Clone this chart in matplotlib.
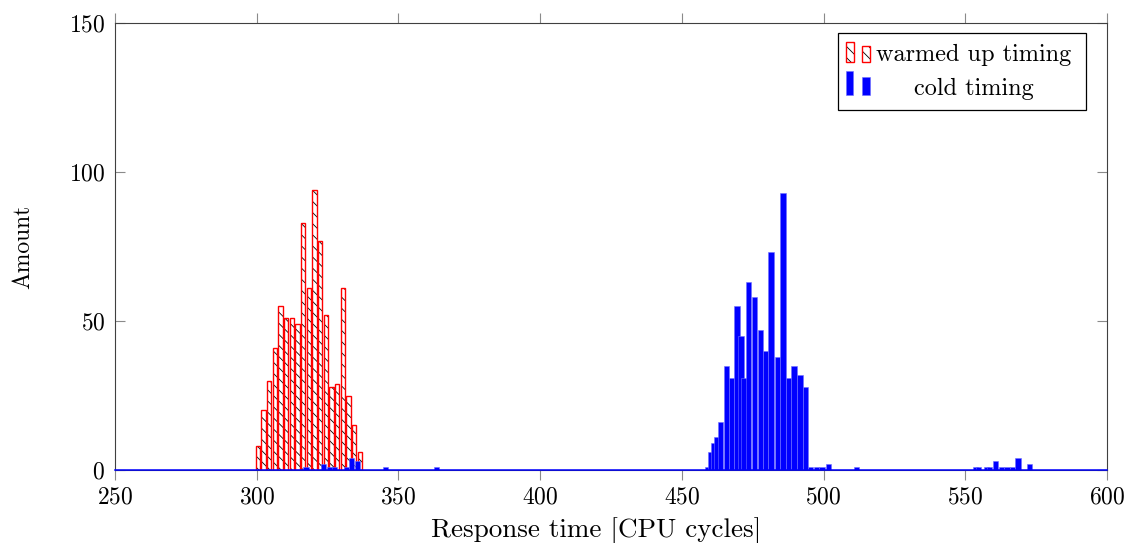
import numpy as np
from matplotlib import pyplot as plt
from matplotlib.patches import Rectangle

FIG_W, FIG_H, DPI = 11.27, 5.43, 100
FONT_SIZE = 17

# warmed up timing: bins of 2 cycles
red_cycles = [300, 302, 304, 306, 308, 310, 312, 314, 316, 318,
              320, 322, 324, 326, 328, 330, 332, 334, 336]
red_counts = [8, 20, 30, 41, 55, 51, 51, 49, 83, 61,
              94, 77, 52, 28, 29, 61, 25, 15, 6]

# cold timing
blue_cycles = [317.4, 323.6, 325.8, 327.5, 331.7, 333.5, 335.5, 345.5, 363.5,
               459.25, 460.25, 461.3, 462.3, 463.7, 465.65, 467.6, 469.5, 470.9,
               471.9, 473.55, 475.55, 477.65, 479.6, 481.5, 483.7, 485.65,
               487.65, 489.6, 491.65, 493.65,
               495.4, 497.4, 499.4, 501.7, 511.7,
               553.6, 554.6, 557.5, 558.5, 560.7, 562.7, 564.7, 566.7, 568.6, 572.6]
blue_counts = [1, 2, 1, 1, 1, 4, 3, 1, 1,
               1, 6, 9, 11, 16, 35, 31, 55, 45,
               31, 63, 58, 47, 40, 73, 38, 93,
               31, 35, 32, 28,
               1, 1, 1, 2, 1,
               1, 1, 1, 1, 3, 1, 1, 1, 4, 2]

x_ticks = [250, 300, 350, 400, 450, 500, 550, 600]
y_ticks = [0, 50, 100, 150]

plt.rcParams['font.family'] = 'serif'
plt.rcParams['font.serif'] = ['cmr10']
plt.rcParams['mathtext.fontset'] = 'cm'
plt.rcParams['axes.formatter.use_mathtext'] = True
plt.rcParams['font.size'] = FONT_SIZE
plt.rcParams['hatch.linewidth'] = 0.6

fig = plt.figure(figsize=(FIG_W, FIG_H), dpi=DPI)
ax = fig.add_axes([115 / 1127, 1 - 470 / 543, 992 / 1127, 447 / 543])

# red bars: black hatch on white, red outline (ybar shift to the left)
red_x = np.array(red_cycles) + 0.4
ax.bar(red_x, red_counts, width=1.5, color='white', edgecolor='black',
       hatch='\\\\\\', linewidth=0, zorder=2)
ax.bar(red_x, red_counts, width=1.5, fill=False, edgecolor='red',
       linewidth=1.0, zorder=3)

ax.bar(blue_cycles, blue_counts, width=1.9, color='blue', edgecolor='#7070ff',
       linewidth=0.4, zorder=4)
ax.axhline(0, color='blue', linewidth=1.1, zorder=5, clip_on=False)

ax.set_xlim(250, 600)
ax.set_ylim(0, 150)
ax.set_xticks(x_ticks)
ax.set_yticks(y_ticks)
ax.tick_params(axis='x', direction='out', length=7.5, width=0.8, color='#8a8a8a',
               top=True, pad=4)
ax.tick_params(axis='y', direction='in', length=7.5, width=0.8, color='#8a8a8a',
               right=True, pad=7)
for s in ax.spines.values():
    s.set_color('#404040')
    s.set_linewidth(0.8)

ax.set_xlabel('Response time [CPU cycles]', labelpad=7, fontsize=19.5)
ax.xaxis.set_label_coords((596 - 115) / 992, -0.105)
ax.set_ylabel('Amount', labelpad=25)


# legend drawn by hand (two little bars per entry, centred text)
def px(x, y):
    return (x - 115) / 992, (470 - y) / 447


lx0, ly0 = px(838, 110)
lx1, ly1 = px(1086, 33)
ax.add_patch(Rectangle((lx0, ly0), lx1 - lx0, ly1 - ly0, transform=ax.transAxes,
                       facecolor='white', edgecolor='black', linewidth=0.9,
                       zorder=10, clip_on=False))
for (x0, x1, top, bottom) in [(846, 854, 42, 62), (862, 870, 46, 62)]:
    a, b = px(x0, bottom)
    c, d = px(x1, top)
    ax.add_patch(Rectangle((a, b), c - a, d - b, transform=ax.transAxes,
                           facecolor='white', edgecolor='black', hatch='\\\\\\',
                           linewidth=0, zorder=11, clip_on=False))
    ax.add_patch(Rectangle((a, b), c - a, d - b, transform=ax.transAxes,
                           fill=False, edgecolor='red', linewidth=1.0,
                           zorder=12, clip_on=False))
for (x0, x1, top, bottom) in [(846, 853, 71, 95), (862, 870, 77, 95)]:
    a, b = px(x0, bottom)
    c, d = px(x1, top)
    ax.add_patch(Rectangle((a, b), c - a, d - b, transform=ax.transAxes,
                           facecolor='blue', edgecolor='#7070ff', linewidth=0.4,
                           zorder=11, clip_on=False))
tx, ty = px(974, 61)
ax.text(tx, ty, 'warmed up timing', transform=ax.transAxes, ha='center',
        va='baseline', zorder=13, fontsize=17.5)
tx, ty = px(974, 95)
ax.text(tx, ty, 'cold timing', transform=ax.transAxes, ha='center',
        va='baseline', zorder=13, fontsize=17.5)

fig.savefig('out.png', dpi=DPI)
